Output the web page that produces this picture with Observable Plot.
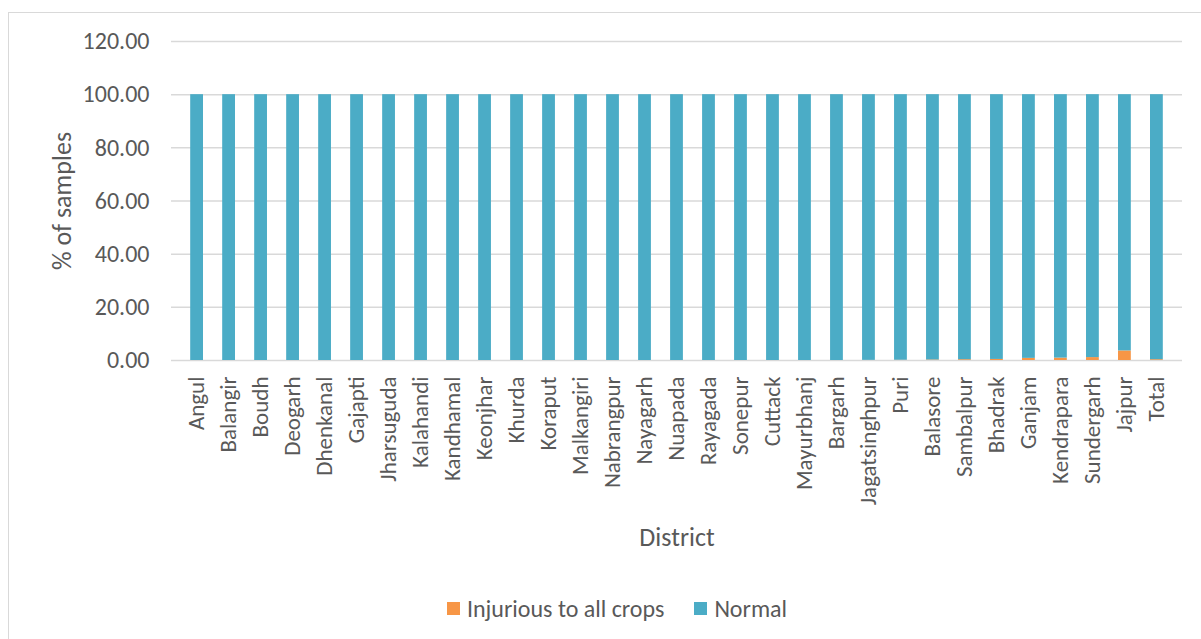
<!DOCTYPE html>
<html>
<head>
<meta charset="utf-8">
<script src="https://cdn.jsdelivr.net/npm/d3@7"></script>
<script src="https://cdn.jsdelivr.net/npm/@observablehq/plot@0.6"></script>
<style>
  html, body { margin: 0; padding: 0; background: #fff; overflow: hidden; width: 1201px; height: 639px; }
  body { position: relative; font-family: Carlito, Lato, "Open Sans", sans-serif; }
  #frame { position: absolute; left: 8px; top: 12px; width: 1220px; height: 660px; border: 1.5px solid #d9d9d9; box-sizing: border-box; }
  #chart { position: absolute; left: 0; top: 0; }
  #legend { position: absolute; top: 594px; left: 3px; width: 1228px; display: flex; justify-content: center; gap: 30px; font-size: 24px; color: #595959; }
  .item { display: flex; align-items: center; gap: 7px; }
  .sw { width: 13px; height: 13px; display: inline-block; }
</style>
</head>
<body>
<div id="frame"></div>
<div id="chart"></div>
<div id="legend"></div>
<script>
const districts = ["Angul","Balangir","Boudh","Deogarh","Dhenkanal","Gajapti","Jharsuguda","Kalahandi","Kandhamal","Keonjhar","Khurda","Koraput","Malkangiri","Nabrangpur","Nayagarh","Nuapada","Rayagada","Sonepur","Cuttack","Mayurbhanj","Bargarh","Jagatsinghpur","Puri","Balasore","Sambalpur","Bhadrak","Ganjam","Kendrapara","Sundergarh","Jajpur","Total"];
const injurious = [0,0,0,0,0,0,0,0,0,0,0,0,0,0,0,0,0,0,0,0,0,0.05,0.1,0.2,0.3,0.4,0.8,0.9,1.1,3.6,0.3];
const normal = [100,100,100,100,100,100,100,100,100,100,100,100,100,100,100,100,100,100,100,100,100,99.95,99.9,99.8,99.7,99.6,99.2,99.1,98.9,96.4,99.7];
const seriesNames = ["Injurious to all crops","Normal"];
const seriesColors = ["#f79646","#4bacc6"];
const yTicks = [0,20,40,60,80,100,120];

const rows = [];
districts.forEach((d,i) => {
  rows.push({district: d, series: seriesNames[0], value: injurious[i]});
  rows.push({district: d, series: seriesNames[1], value: normal[i]});
});

const chart = Plot.plot({
  width: 1201,
  height: 590,
  marginTop: 41,
  marginBottom: 230,
  marginLeft: 171,
  marginRight: 19,
  style: { fontFamily: "Carlito, Lato, 'Open Sans', sans-serif", color: "#595959", background: "transparent" },
  x: { domain: districts, padding: 0.6, label: null },
  y: { domain: [0, 120], label: null },
  color: { domain: seriesNames, range: seriesColors },
  marks: [
    Plot.ruleY(yTicks, { stroke: "#d9d9d9", strokeWidth: 1.5 }),
    Plot.barY(rows, Plot.stackY({ x: "district", y: "value", fill: "series", order: seriesNames })),
    Plot.axisY({ ticks: yTicks, tickFormat: d => d.toFixed(2), tickSize: 0, tickPadding: 22, fontSize: 24, label: null }),
    Plot.axisX({ tickRotate: -90, tickSize: 0, tickPadding: 16, fontSize: 23, label: null }),
    Plot.text(["District"], { frameAnchor: "bottom", lineAnchor: "middle", dy: 177, fontSize: 26, fill: "#595959" }),
    Plot.text(["% of samples"], { frameAnchor: "left", textAnchor: "middle", lineAnchor: "middle", dx: -109, rotate: -90, fontSize: 26, fill: "#595959" })
  ]
});
document.getElementById("chart").appendChild(chart);

const legend = document.getElementById("legend");
seriesNames.forEach((n, i) => {
  const it = document.createElement("div");
  it.className = "item";
  it.innerHTML = `<span class="sw" style="background:${seriesColors[i]}"></span><span>${n}</span>`;
  legend.appendChild(it);
});
</script>
</body>
</html>
